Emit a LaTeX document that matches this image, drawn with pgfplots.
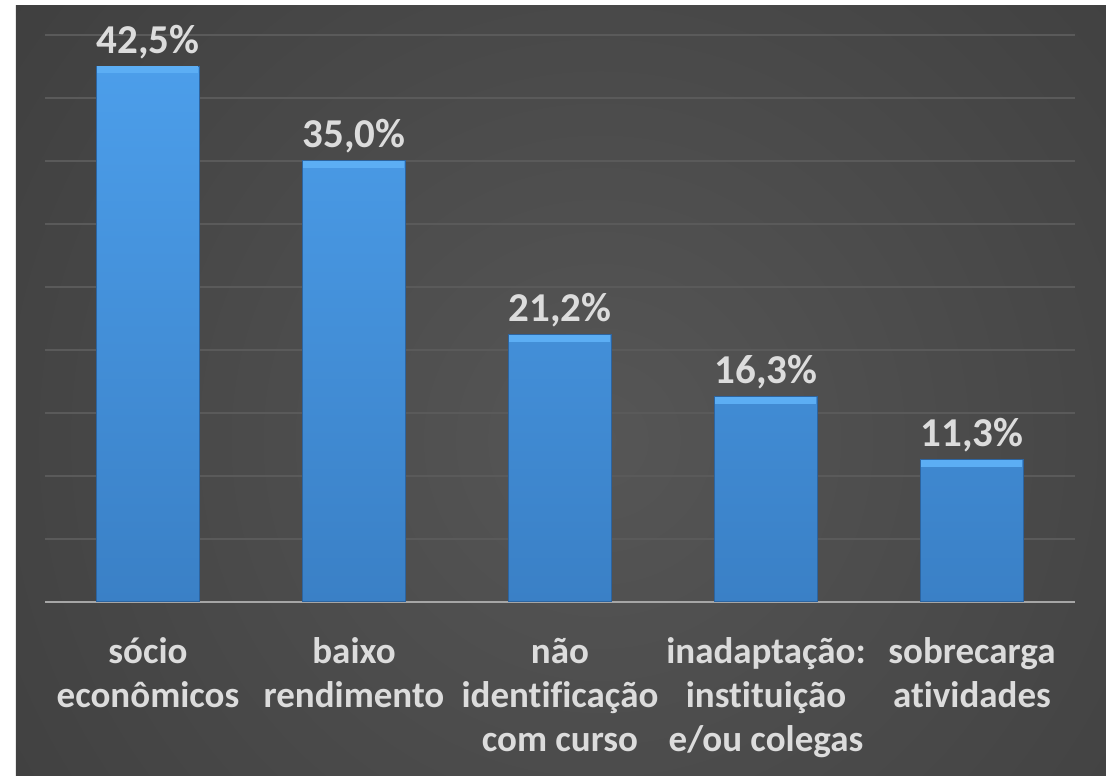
\documentclass[border=0pt]{standalone}
\usepackage{fontspec}
\setmainfont{Carlito}[Ligatures=NoCommon]
\usepackage{pgfplots}
\pgfplotsset{compat=1.18}
\pgfdeclarelayer{background}
\pgfsetlayers{background,main}
\definecolor{bgdark}{HTML}{262626}
\definecolor{bglight}{HTML}{565656}
\definecolor{gridc}{HTML}{5A5A5A}
\definecolor{txt}{HTML}{DCDCDC}
\definecolor{bartop}{HTML}{4C9EEA}
\definecolor{barbot}{HTML}{3A80C6}
\definecolor{baredge}{HTML}{2C64A0}
\definecolor{bevel}{HTML}{5CAEF4}
\definecolor{axisc}{HTML}{A6A6A6}
\begin{document}
\begin{tikzpicture}
\begin{axis}[
  scale only axis, width=1030pt, height=567pt,
  xmin=-0.5, xmax=4.5, ymin=0, ymax=45,
  separate axis lines,
  axis x line*=bottom, axis y line*=left,
  y axis line style={draw=none},
  x axis line style={draw=axisc, line width=1.5pt, -},
  ytick={0,5,...,45}, yticklabels={},
  ymajorgrids, grid style={gridc, line width=1.5pt},
  major tick length=0pt, tick style={draw=none},
  xtick={0,1,2,3,4},
  xticklabels={{sócio\\econômicos},{baixo\\rendimento},{não\\identificação\\com curso},{inadaptação:\\instituição\\e/ou colegas},{sobrecarga\\atividades}},
  typeset ticklabels with strut,
  xticklabel style={align=center, font=\fontsize{37}{44}\selectfont\bfseries, text=txt, anchor=north, inner sep=0pt, yshift=-30pt},
  nodes near coords={\pgfmathprintnumber[fixed,fixed zerofill,precision=1,use comma,assume math mode=true]{\pgfplotspointmeta}\%},
  every node near coord/.append style={font=\fontsize{41}{48}\selectfont\bfseries, text=txt, anchor=base, inner sep=0pt, yshift=13pt},
]
\addplot[ybar, bar width=103pt, top color=bartop, bottom color=barbot, draw=baredge, line width=1pt,
  error bars/y dir=minus, error bars/y fixed=0.55, error bars/error mark=none,
  error bars/error bar style={line width=101pt, color=bevel}]
  coordinates {(0,42.5) (1,35.0) (2,21.2) (3,16.3) (4,11.3)};
\coordinate (O) at (rel axis cs:0,0);
\end{axis}
\begin{pgfonlayer}{background}
\fill[white] ([shift={(-45pt,-174pt)}]O) rectangle ([shift={(1061pt,602pt)}]O);
\fill[bgdark] ([shift={(-29pt,-174pt)}]O) rectangle ([shift={(1061pt,596pt)}]O);
\begin{scope}
\clip ([shift={(-29pt,-174pt)}]O) rectangle ([shift={(1061pt,596pt)}]O);
\shade[inner color=bglight, outer color=bgdark] ([shift={(555pt,162pt)}]O) circle (1540pt);
\end{scope}
\end{pgfonlayer}
\pgfresetboundingbox
\path ([shift={(-45pt,-174pt)}]O) rectangle ([shift={(1061pt,602pt)}]O);
\end{tikzpicture}
\end{document}
